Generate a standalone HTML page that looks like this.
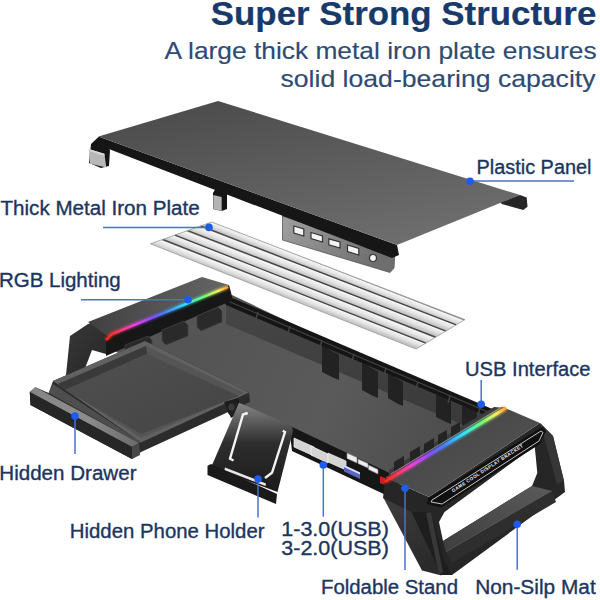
<!DOCTYPE html>
<html><head><meta charset="utf-8">
<style>
html,body{margin:0;padding:0;background:#fff;}
body{width:600px;height:600px;overflow:hidden;position:relative;}
svg{position:absolute;left:0;top:0;display:block;}
text{font-family:"Liberation Sans",sans-serif;}
</style></head>
<body>
<svg width="600" height="600" viewBox="0 0 600 600">
<defs>
  <linearGradient id="panelTop" x1="0.1" y1="0" x2="0.7" y2="1">
    <stop offset="0" stop-color="#4a4a4a"/>
    <stop offset="1" stop-color="#6e6e6e"/>
  </linearGradient>
  <linearGradient id="plateShade" x1="0" y1="0" x2="1" y2="0.3">
    <stop offset="0" stop-color="#ffffff" stop-opacity="0.1"/>
    <stop offset="1" stop-color="#000000" stop-opacity="0.05"/>
  </linearGradient>
  <linearGradient id="rgbL" gradientUnits="userSpaceOnUse" x1="108" y1="335" x2="228" y2="287">
    <stop offset="0" stop-color="#ff2a1a"/>
    <stop offset="0.1" stop-color="#ff3a6a"/>
    <stop offset="0.22" stop-color="#f040e0"/>
    <stop offset="0.36" stop-color="#8a4cff"/>
    <stop offset="0.46" stop-color="#4a78ff"/>
    <stop offset="0.64" stop-color="#30e0ff"/>
    <stop offset="0.8" stop-color="#70ff70"/>
    <stop offset="0.92" stop-color="#fff060"/>
    <stop offset="1" stop-color="#ff9a30"/>
  </linearGradient>
  <linearGradient id="rgbR" gradientUnits="userSpaceOnUse" x1="387" y1="481" x2="506" y2="408">
    <stop offset="0" stop-color="#ff2a1a"/>
    <stop offset="0.1" stop-color="#ff3a6a"/>
    <stop offset="0.22" stop-color="#f040e0"/>
    <stop offset="0.36" stop-color="#8a4cff"/>
    <stop offset="0.46" stop-color="#4a78ff"/>
    <stop offset="0.64" stop-color="#30e0ff"/>
    <stop offset="0.8" stop-color="#70ff70"/>
    <stop offset="0.92" stop-color="#fff060"/>
    <stop offset="1" stop-color="#ff9a30"/>
  </linearGradient>
  <linearGradient id="floorG" gradientUnits="userSpaceOnUse" x1="200" y1="320" x2="480" y2="440">
    <stop offset="0" stop-color="#545454"/>
    <stop offset="0.5" stop-color="#5a5a5a"/>
    <stop offset="1" stop-color="#4a4a4a"/>
  </linearGradient>
  <linearGradient id="riserL" x1="0" y1="0.5" x2="1" y2="0.5">
    <stop offset="0" stop-color="#404040"/>
    <stop offset="1" stop-color="#666666"/>
  </linearGradient>
  <linearGradient id="trayG" x1="0" y1="0" x2="1" y2="1">
    <stop offset="0" stop-color="#505050"/>
    <stop offset="1" stop-color="#444"/>
  </linearGradient>
  <linearGradient id="barTop" x1="0" y1="0" x2="1" y2="0">
    <stop offset="0" stop-color="#858585"/>
    <stop offset="0.5" stop-color="#8e8e8e"/>
    <stop offset="1" stop-color="#6a6a6a"/>
  </linearGradient>
  <linearGradient id="matG" x1="0" y1="1" x2="1" y2="0">
    <stop offset="0" stop-color="#3e3e3e"/>
    <stop offset="1" stop-color="#5a5a5a"/>
  </linearGradient>
  <linearGradient id="riserR" x1="0" y1="0" x2="1" y2="1">
    <stop offset="0" stop-color="#424242"/>
    <stop offset="1" stop-color="#565656"/>
  </linearGradient>
  <linearGradient id="phoneG" x1="0" y1="0" x2="0" y2="1">
    <stop offset="0" stop-color="#858585"/>
    <stop offset="0.45" stop-color="#2e2e2e"/>
    <stop offset="1" stop-color="#1a1a1a"/>
  </linearGradient>
  <linearGradient id="legG" x1="0" y1="0" x2="0.4" y2="1">
    <stop offset="0" stop-color="#3e3e3e"/>
    <stop offset="1" stop-color="#2a2a2a"/>
  </linearGradient>
  <filter id="glow" x="-20%" y="-20%" width="140%" height="140%">
    <feGaussianBlur stdDeviation="1.2"/>
  </filter>
  <linearGradient id="wallG" x1="0" y1="0" x2="0" y2="1">
    <stop offset="0" stop-color="#464646"/>
    <stop offset="1" stop-color="#383838"/>
  </linearGradient>
  <linearGradient id="legL" x1="0" y1="0" x2="1" y2="1">
    <stop offset="0" stop-color="#3a3a3a"/>
    <stop offset="1" stop-color="#222"/>
  </linearGradient>
  <linearGradient id="bracketG" x1="0" y1="0" x2="1" y2="0.3">
    <stop offset="0" stop-color="#a0a0a0"/>
    <stop offset="1" stop-color="#6e6e6e"/>
  </linearGradient>
</defs>
<!-- ============ TOP PANEL ============ -->
<g id="panel">
  <!-- left foot -->
  <polygon points="91,144 98.5,137 110,150 109,166 101,168 89,163" fill="#151515"/>
  <polygon points="88.8,149 104.4,153.8 106.3,167.5 90,163.8" fill="#b8b8b8"/>
  <polygon points="88.8,149 104.4,153.8 104.6,156 88.9,151" fill="#d8d8d8"/>
  <!-- middle foot -->
  <polygon points="213,193 216,188 227,190 227,209 221.7,211 213,209" fill="#151515"/>
  <polygon points="213.3,195 221.7,197 221.7,211 213.3,209" fill="#b4b4b4"/>
  <!-- bracket -->
  <polygon points="282.5,213.5 395,251 394,268 390,272.5 282.5,240" fill="url(#bracketG)" stroke="#555" stroke-width="0.8"/>
  <polygon points="282.5,213.5 395,251 395,254 282.5,216.5" fill="#5a5a5a"/>
  <g fill="#f4f4f4" stroke="#333" stroke-width="1.2">
    <polygon points="293.8,226 303.8,229 303.8,236 293.8,233"/>
    <polygon points="311,232.5 322.5,236 322.5,242 311,238.5"/>
    <polygon points="328.8,238.8 340,242 340,248 328.8,244.8"/>
    <polygon points="347.5,245 358.8,248.5 358.8,255 347.5,251.5"/>
  </g>
  <circle cx="373" cy="258" r="3.5" fill="#f4f4f4" stroke="#333" stroke-width="1.2"/>
  <!-- front face -->
  <polygon points="98.5,136.5 397,245 399,255 392,258 98.5,145" fill="#161616"/>
  <!-- top surface -->
  <polygon points="98.5,136.5 218,101 520,195 397,245" fill="url(#panelTop)"/>
  <!-- right tab -->
  <polygon points="500.8,202.5 520,195 526.7,197.5 527.5,206.7 523.3,210 501.7,204" fill="#262626"/>
</g>

<!-- ============ METAL PLATE ============ -->
<g id="plate">
  <defs>
  <linearGradient id="strip0" gradientUnits="userSpaceOnUse" x1="338.4" y1="270.8" x2="335.5" y2="278.2"><stop offset="0" stop-color="#8a8a8a"/><stop offset="0.12" stop-color="#f6f6f6"/><stop offset="0.55" stop-color="#e2e2e2"/><stop offset="1" stop-color="#bdbdbd"/></linearGradient>
  <linearGradient id="strip1" gradientUnits="userSpaceOnUse" x1="328.4" y1="275.4" x2="325.1" y2="284.0"><stop offset="0" stop-color="#8a8a8a"/><stop offset="0.12" stop-color="#f6f6f6"/><stop offset="0.55" stop-color="#e2e2e2"/><stop offset="1" stop-color="#bdbdbd"/></linearGradient>
  <linearGradient id="strip2" gradientUnits="userSpaceOnUse" x1="316.8" y1="280.8" x2="313.5" y2="289.4"><stop offset="0" stop-color="#8a8a8a"/><stop offset="0.12" stop-color="#f6f6f6"/><stop offset="0.55" stop-color="#e2e2e2"/><stop offset="1" stop-color="#bdbdbd"/></linearGradient>
  <linearGradient id="strip3" gradientUnits="userSpaceOnUse" x1="305.3" y1="286.2" x2="302.1" y2="294.3"><stop offset="0" stop-color="#8a8a8a"/><stop offset="0.12" stop-color="#f6f6f6"/><stop offset="0.55" stop-color="#e2e2e2"/><stop offset="1" stop-color="#bdbdbd"/></linearGradient>
  <linearGradient id="strip4" gradientUnits="userSpaceOnUse" x1="294.2" y1="291.3" x2="291.0" y2="299.5"><stop offset="0" stop-color="#8a8a8a"/><stop offset="0.12" stop-color="#f6f6f6"/><stop offset="0.55" stop-color="#e2e2e2"/><stop offset="1" stop-color="#bdbdbd"/></linearGradient>
  </defs>
  <polygon points="211.7,222.0 465.0,319.6 456.2,324.9 200.7,225.9" fill="url(#strip0)"/>
  <polygon points="200.7,225.9 456.2,324.9 445.9,331.1 187.8,230.5" fill="url(#strip1)"/>
  <polygon points="187.8,230.5 445.9,331.1 435.6,337.2 174.9,235.1" fill="url(#strip2)"/>
  <polygon points="174.9,235.1 435.6,337.2 425.8,343.1 162.7,239.4" fill="url(#strip3)"/>
  <polygon points="162.7,239.4 425.8,343.1 416.0,349.0 150.4,243.8" fill="url(#strip4)"/>
  <g stroke="#444" stroke-width="1.3">
    <line x1="200.7" y1="225.9" x2="456.2" y2="324.9"/>
    <line x1="187.8" y1="230.5" x2="445.9" y2="331.1"/>
    <line x1="174.9" y1="235.1" x2="435.6" y2="337.2"/>
    <line x1="162.7" y1="239.4" x2="425.8" y2="343.1"/>
  </g>
  <polygon points="211.7,222 465,319.6 416,349 150.4,243.8" fill="none" stroke="#9a9a9a" stroke-width="0.8"/>
</g>
<!-- ============ BASE ============ -->
<g id="base">
  <!-- main floor -->
  <polygon points="106,345 232,295 497,420 400,480 291,429 238,404 150,374" fill="url(#floorG)"/>
  <!-- back wall inner face -->
  <polygon points="226,304 494,418 494,438 226,324" fill="url(#wallG)"/>
  <!-- tall rib plates -->
  <g fill="#222">
    <polygon points="322,346 328,346 339,352 339,380 334,378 322,372"/>
    <polygon points="362,363 368,363 378,369 378,398 373,396 362,390"/>
    <polygon points="388,374 394,374 403,379 403,406 398,404 388,398"/>
    <polygon points="436,395 442,395 451,400 451,424 446,422 436,417"/>
    <polygon points="462,406 468,406 477,411 477,432 472,430 462,425"/>
  </g>
  <g fill="#3a3a3a">
    <polygon points="328,346 339,352 339,355 328,349"/>
    <polygon points="368,363 378,369 378,372 368,366"/>
    <polygon points="394,374 403,379 403,382 394,377"/>
  </g>
  <!-- back wall: outer top rail (ladder) -->
  <polygon points="221,296 235,299 497,411 494,419 226,305" fill="#151515"/>
  <line x1="229" y1="301.5" x2="495" y2="415" stroke="#444" stroke-width="1.1"/>
  <g stroke="#444" stroke-width="1.4">
    <line x1="258" y1="312" x2="256" y2="319"/>
    <line x1="290" y1="326" x2="288" y2="333"/>
    <line x1="322" y1="340" x2="320" y2="347"/>
    <line x1="354" y1="354" x2="352" y2="361"/>
    <line x1="386" y1="368" x2="384" y2="375"/>
    <line x1="418" y1="382" x2="416" y2="389"/>
    <line x1="450" y1="396" x2="448" y2="403"/>
    <line x1="480" y1="408" x2="478" y2="415"/>
  </g>

  <!-- left riser -->
  <polygon points="70,336 88,324 130,310 107.5,339 106,354 92,350 82.5,375 66,375" fill="url(#legL)"/>
  <polygon points="106,337 229,285 233,300 106,356" fill="#171717"/>
  <g fill="#2a2a2a" stroke="#444" stroke-width="0.7">
    <polygon points="125,345 148,336 152,340 152,350 129,359 125,355"/>
    <polygon points="162,330 184,321 188,325 188,336 166,345 162,341"/>
    <polygon points="197,316 218,307 222,311 222,322 201,331 197,327"/>
  </g>
  <polygon points="88,322 202,277 229,285 109,337" fill="url(#riserL)"/>
  <polyline points="106,340 112,334 228,287" fill="none" stroke="url(#rgbL)" stroke-width="4.5" filter="url(#glow)" opacity="0.6"/>
  <polyline points="106,340 112,334 228,287" fill="none" stroke="url(#rgbL)" stroke-width="2.4"/>

  <!-- drawer tray -->
  <polygon points="29.75,392 35.3,387.3 48.7,393 53,381 145,341 249,392.5 250,402 141,452 132,459 30.5,405" fill="#2c2c2c"/>
  <polygon points="48.7,393 53,384 141,442.5 139,443" fill="#4e4e4e"/>
  <polygon points="53,381 145,341 249,392.5 141,442.5" fill="#616161"/>
  <polygon points="58,384 146,346 244,393 141,438" fill="#555555"/>
  <polygon points="58,384 146,346 147,354 65,390" fill="#3a3a3a"/>
  <polygon points="65,390 147,354 239,396 141,434" fill="url(#trayG)"/>
  <!-- drawer front bar -->
  <polygon points="29.75,392 35.3,387.3 139,443 132,447" fill="url(#barTop)"/>
  <polygon points="29.75,392 132,447 132,459 30.5,405" fill="#262626"/>
  <polygon points="132,447 139,443 140,455 132,459" fill="#484848"/>

  <!-- phone holder hinge -->
  <polygon points="224,402 238,398 243,411 231,418" fill="#1c1c1c"/>
  <ellipse cx="233" cy="409" rx="6" ry="7" fill="#202020"/>
  <ellipse cx="231.5" cy="407" rx="3" ry="3.5" fill="#3a3a3a"/>
  <!-- USB front wall -->
  <polygon points="289,425.5 400,478 398,494 388,496 292,451" fill="#161616"/>
  <g fill="#d4d4d4" stroke="#f4f4f4" stroke-width="0.7">
    <polygon points="294,438 314,447 314,456 294,447"/>
    <polygon points="311,446 328,454 328,463 311,455"/>
    <polygon points="328,453 346,461 346,470 328,462"/>
  </g>
  <g fill="#eeeeee" stroke="#8a8a8a" stroke-width="0.6">
    <polygon points="347,453 357,457.5 357,463 347,458.5"/>
    <polygon points="358,459 368,463.5 368,468 358,463.5"/>
    <polygon points="368.5,465 378,469.5 378,474 368.5,469.5"/>
  </g>
  <polygon points="344,465 360,472.5 360,479 344,471.5" fill="#5a66c4"/>
  <polygon points="344,465 360,472.5 360,474.5 344,467" fill="#dfe3ff"/>
  <polygon points="380,476 392,481 392,488 380,483" fill="#c8201c"/>
  <!-- phone holder -->
  <polygon points="239,402.75 288,424 292,427 293,431 277.5,492 211,467.5" fill="url(#phoneG)"/>
  <polyline points="247.75,413 243,414.5 230,458.75 233.5,460.5" fill="none" stroke="#f4f4f4" stroke-width="2.4"/>
  <polyline points="282.75,430.75 285,432 272,472.75 265,478" fill="none" stroke="#f4f4f4" stroke-width="2.4"/>
  <polygon points="207.5,465.75 211,464 277,494 276,504 207.5,475" fill="#1a1a1a"/>
  <polygon points="225,467.5 266,483.5 265.5,486 224.5,470" fill="#e8e8e8"/>

  <!-- right riser -->
  <!-- D-frame side -->
  <polygon points="429,497 540,423 553,436 564,481 565,492 452,575 441,575 431,568" fill="#262626"/>
  <polygon points="540,423 553,436 564,481 557,484 546,444" fill="#363636"/>
  <polygon points="444.5,512 534.7,446 537.3,473 532,486 443,541 439,522" fill="#ffffff"/>
  <polygon points="443,541 532,486 552,491 446,552" fill="url(#matG)"/>
  <line x1="446" y1="552" x2="552" y2="491" stroke="#6a6a6a" stroke-width="1"/>
  <polygon points="446,552 552,491 556,502 452,563" fill="#2e2e2e"/>
  <!-- leg front -->
  <polygon points="409,511 431,511 444,560 452,575 441.5,575" fill="#1e1e1e"/>
  <polygon points="383,497 411,511 441.5,575.5 422,570.5" fill="url(#legG)"/>
  <polygon points="426,513 431,512 443,572 439,574" fill="#383838"/>
  <!-- front face -->
  <polygon points="385.3,477.7 429,497 431,512 411,512 383,498" fill="#262626"/>
  <!-- top surface -->
  <polygon points="385.3,477.7 502.2,406.8 540,423 429,497" fill="url(#riserR)"/>
  <polygon points="389,470 494,407 506,408 389,479" fill="#3c3c3c"/>
  <g fill="#242424">
    <polygon points="394,462 404,456 404,466 394,472"/>
    <polygon points="410,452 420,446 420,456 410,462"/>
    <polygon points="424,444 434,438 434,448 424,454"/>
    <polygon points="438,435 447,430 447,440 438,445"/>
    <polygon points="451,427 460,422 460,432 451,437"/>
  </g>
  <line x1="391" y1="474" x2="500" y2="408" stroke="#9a9a9a" stroke-width="0.8"/>
  <polyline points="385,482 389,479 506,408" fill="none" stroke="url(#rgbR)" stroke-width="5" filter="url(#glow)" opacity="0.65"/>
  <polyline points="385,482 389,479 506,408" fill="none" stroke="url(#rgbR)" stroke-width="2.8"/>
  <!-- label band -->
  <polygon points="428,498 542.7,426.7 546,431 540,444 441,507.5 427,504" fill="#101010"/>
  <polygon points="432,500 541,431 543,432.5 539,441 442,504 431,502" fill="none" stroke="#d8d8d8" stroke-width="0.9"/>
  <text x="0" y="0" font-size="4.6" fill="#f0f0f0" font-weight="bold" textLength="84" lengthAdjust="spacing" transform="translate(453,492.5) rotate(-33)">GAME COOL DISPLAY BRACKET</text>
</g>
<!-- ============ TEXT ============ -->
<g fill="#173a6b" stroke="#173a6b" stroke-width="0.2">
  <text x="210.8" y="25.3" font-size="34" font-weight="bold" textLength="385.5" lengthAdjust="spacingAndGlyphs">Super Strong Structure</text>
</g>
<g fill="#2d4b73" stroke="#2d4b73" stroke-width="0.15">
  <text x="164.6" y="58.7" font-size="24" textLength="432" lengthAdjust="spacingAndGlyphs">A large thick metal iron plate ensures</text>
  <text x="280.5" y="87.3" font-size="24" textLength="315" lengthAdjust="spacingAndGlyphs">solid load-bearing capacity</text>
</g>
<g fill="#1b3560" stroke="#1b3560" stroke-width="0.35" font-size="20">
  <text x="476.5" y="173.8" textLength="115" lengthAdjust="spacingAndGlyphs">Plastic Panel</text>
  <text x="0.5" y="215.3" textLength="199.2" lengthAdjust="spacingAndGlyphs">Thick Metal Iron Plate</text>
  <text x="-1.0" y="287.3" textLength="121.7" lengthAdjust="spacingAndGlyphs">RGB Lighting</text>
  <text x="465.0" y="376.0" textLength="125.5" lengthAdjust="spacingAndGlyphs">USB Interface</text>
  <text x="-0.7" y="479.5" textLength="137.2" lengthAdjust="spacingAndGlyphs">Hidden Drawer</text>
  <text x="69.8" y="537.5" textLength="194.7" lengthAdjust="spacingAndGlyphs">Hidden Phone Holder</text>
  <text x="281.3" y="536.0" textLength="107.5" lengthAdjust="spacingAndGlyphs">1-3.0(USB)</text>
  <text x="281.3" y="555.3" textLength="107.5" lengthAdjust="spacingAndGlyphs">3-2.0(USB)</text>
  <text x="321.0" y="593.5" textLength="137" lengthAdjust="spacingAndGlyphs">Foldable Stand</text>
  <text x="475.2" y="593.7" textLength="120.5" lengthAdjust="spacingAndGlyphs">Non-Silp Mat</text>
</g>

<!-- ============ LEADERS ============ -->
<g stroke="#4a72cc" stroke-width="1.5" fill="none">
  <line x1="470" y1="181" x2="574" y2="181"/>
  <line x1="103" y1="227.4" x2="209" y2="227.4"/>
  <line x1="81" y1="299.7" x2="188" y2="299.7"/>
  <line x1="481.2" y1="380" x2="481.2" y2="404"/>
  <line x1="75" y1="416" x2="75" y2="454"/>
  <line x1="258" y1="479" x2="258" y2="517.5"/>
  <line x1="323.3" y1="465" x2="323.3" y2="516.7"/>
  <line x1="405" y1="488.3" x2="405" y2="570"/>
  <line x1="517.2" y1="524.3" x2="517.2" y2="569.8"/>
</g>
<g fill="#1e5cf0">
  <circle cx="470" cy="181.3" r="3.8"/>
  <circle cx="209" cy="227.4" r="3.8"/>
  <circle cx="188" cy="299.7" r="3.8"/>
  <circle cx="481.2" cy="404.2" r="3.8"/>
  <circle cx="75" cy="416" r="3.8"/>
  <circle cx="258" cy="479" r="3.8"/>
  <circle cx="323.3" cy="465" r="3.8"/>
  <circle cx="405" cy="488.3" r="3.8"/>
  <circle cx="517.2" cy="524.3" r="3.8"/>
</g>
</svg>
</body></html>
